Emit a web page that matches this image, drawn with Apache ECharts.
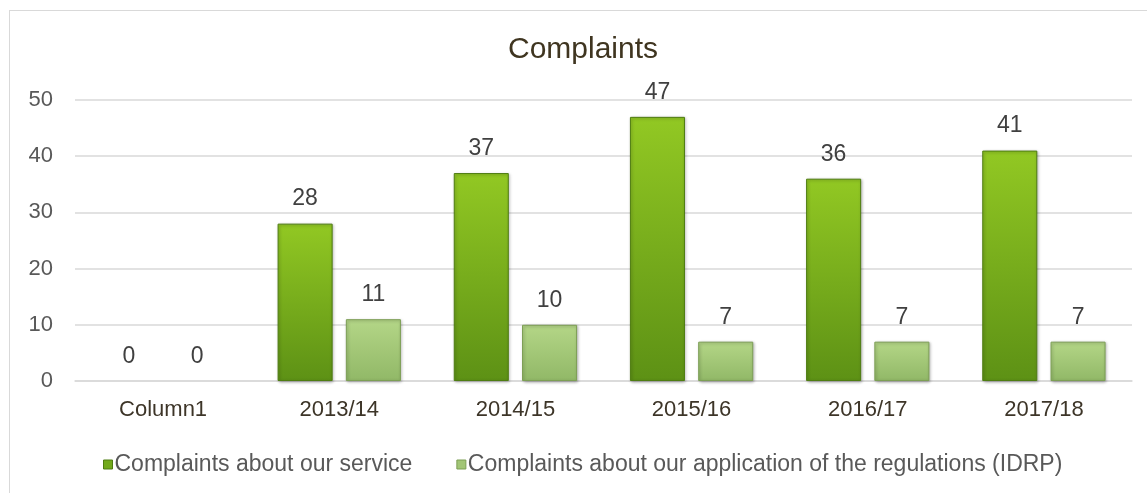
<!DOCTYPE html>
<html>
<head>
<meta charset="utf-8">
<script src="https://cdn.jsdelivr.net/npm/echarts@6/dist/echarts.min.js"></script>
<style>
  html, body { margin: 0; padding: 0; background: #fff; }
  #chart { width: 1147px; height: 493px; }
  .frame { position: absolute; left: 9px; top: 10px; right: 0; bottom: 0; border-left: 1px solid #d9d9d9; border-top: 1px solid #d9d9d9; }
</style>
</head>
<body>
<div class="frame"></div>
<div id="chart"></div>
<script>
  const categories = ['Column1', '2013/14', '2014/15', '2015/16', '2016/17', '2017/18']
  const serviceComplaints = [0, 28, 37, 47, 36, 41]
  const idrpComplaints = [0, 11, 10, 7, 7, 7]
  const yTicks = [0, 10, 20, 30, 40, 50]

  const font = 'Liberation Sans, Arial, sans-serif'

  const darkGreen = new echarts.graphic.LinearGradient(0, 0, 0, 1, [
    { offset: 0, color: '#92c823' },
    { offset: 1, color: '#5d9115' }
  ])
  const lightGreen = new echarts.graphic.LinearGradient(0, 0, 0, 1, [
    { offset: 0, color: '#b4d687' },
    { offset: 1, color: '#91b867' }
  ])

  const labelStyle = {
    show: true,
    position: 'top',
    distance: 13,
    fontFamily: font,
    fontSize: 23,
    color: '#404040'
  }

  // zero-height bars get no border, so nothing is drawn for them
  const toItems = (values, border) => values.map(v => ({
    value: v,
    itemStyle: { borderWidth: v === 0 ? 0 : 1, borderColor: border }
  }))

  const barStyle = {
    shadowColor: 'rgba(0,0,0,0.3)',
    shadowBlur: 3,
    shadowOffsetX: 1,
    shadowOffsetY: 1
  }

  const chart = echarts.init(document.getElementById('chart'))
  chart.setOption({
    animation: false,
    title: {
      text: 'Complaints',
      left: 503,
      top: 30,
      textStyle: { fontFamily: font, fontSize: 30, fontWeight: 'normal', color: '#3f3520' }
    },
    grid: { left: 75, right: 15, top: 100, bottom: 112 },
    legend: {
      top: 448,
      left: 98,
      itemWidth: 9,
      itemHeight: 9,
      itemGap: 44,
      icon: 'rect',
      textStyle: { fontFamily: font, fontSize: 23, color: '#595959', padding: [0, 0, 0, -3] },
      data: [
        { name: 'Complaints about our service', itemStyle: { color: '#72a91b', borderColor: '#4f7d12', borderWidth: 1 } },
        { name: 'Complaints about our application of the regulations (IDRP)', itemStyle: { color: '#a2c676', borderColor: '#7d9f55', borderWidth: 1 } }
      ]
    },
    xAxis: {
      type: 'category',
      data: categories,
      axisTick: { show: false },
      axisLine: { lineStyle: { color: '#d9d9d9', width: 1.5 } },
      axisLabel: { fontFamily: font, fontSize: 22, color: '#3d3528', margin: 18 }
    },
    yAxis: {
      type: 'value',
      min: yTicks[0],
      max: yTicks[yTicks.length - 1],
      interval: 10,
      axisLine: { show: false },
      axisTick: { show: false },
      splitLine: { lineStyle: { color: '#d9d9d9', width: 1.5 } },
      axisLabel: { fontFamily: font, fontSize: 22, color: '#595959', margin: 22 }
    },
    series: [
      {
        name: 'Complaints about our service',
        type: 'bar',
        data: toItems(serviceComplaints, '#4f7d12'),
        barGap: '24%',
        barCategoryGap: '30%',
        itemStyle: Object.assign({ color: darkGreen }, barStyle),
        label: labelStyle
      },
      {
        name: 'Complaints about our application of the regulations (IDRP)',
        type: 'bar',
        data: toItems(idrpComplaints, '#7d9f55'),
        itemStyle: Object.assign({ color: lightGreen }, barStyle),
        label: labelStyle
      }
    ]
  })
</script>
</body>
</html>
